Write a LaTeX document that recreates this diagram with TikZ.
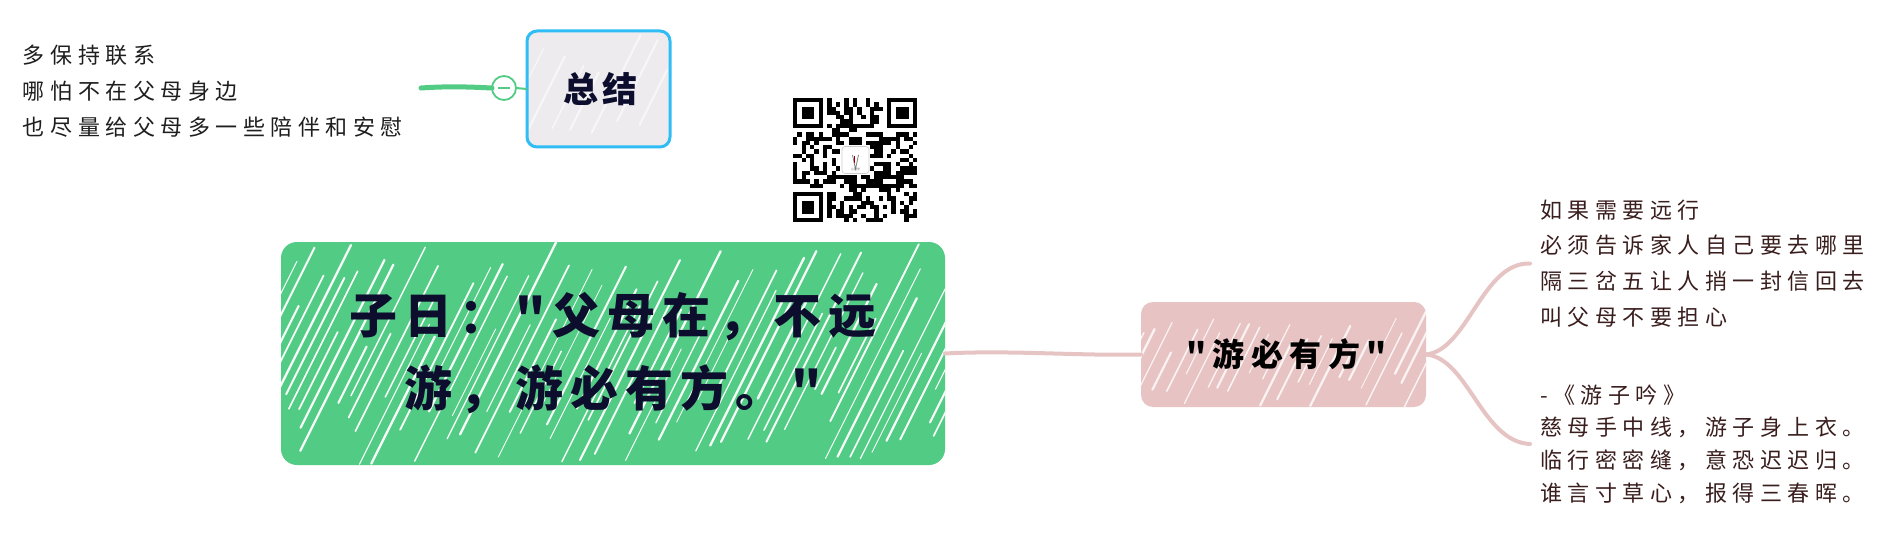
\documentclass[tikz,border=0pt]{standalone}
\usepackage{fontspec}
\setmainfont{Noto Sans CJK SC}
\newfontfamily\cjkw{Noto Sans CJK SC}[LetterSpace=25]
\newfontfamily\cjkm{Noto Sans CJK SC}[LetterSpace=15]
\newfontfamily\cjkp{Noto Sans CJK SC}[LetterSpace=20]
\newfontfamily\cjks{Noto Sans CJK SC}[LetterSpace=10]
\definecolor{mgreen}{HTML}{52CB84}
\definecolor{mpink}{HTML}{E8C3C3}
\definecolor{lpink}{HTML}{E6C4C4}
\definecolor{sgray}{HTML}{EDEBEE}
\definecolor{sblue}{HTML}{30BDF5}
\definecolor{navy}{HTML}{0D0D2E}
\definecolor{dbrown}{HTML}{3A1E1E}
\definecolor{dtext}{HTML}{1E1E1E}
% #1 x1, #2 y1 (top), #3 x2, #4 y2 (bottom), #5 seed, #6 opacity, #7 corner radius, #8 spacing
\newcommand\hatchbox[8]{%
  \begin{scope}
    \clip[rounded corners=#7] (#1,#2) rectangle (#3,#4);
    \pgfmathsetseed{#5}
    \pgfmathsetmacro\hh{#4-#2}
    \pgfmathsetmacro\hs{#1-0.5*\hh}
    \pgfmathsetmacro\hn{\hs+#8}
    \foreach \xx in {\hs,\hn,...,#3} {
      \pgfmathsetmacro\ta{rnd*0.35}
      \pgfmathsetmacro\tb{0.5+rnd*0.5}
      \pgfmathsetmacro\lw{0.8+rnd*1.6}
      \pgfmathsetmacro\dx{rnd*6}
      \draw[white, opacity=#6, line width=\lw pt, line cap=round]
        (\xx+\dx+0.5*\hh*\ta, #4-\hh*\ta) -- (\xx+\dx+0.5*\hh*\tb, #4-\hh*\tb);
    }
  \end{scope}}
\tikzset{
  leftblock/.style={font=\cjkw\fontsize{22}{36}\selectfont, text=dtext, align=left, anchor=west},
  rightblock/.style={font=\cjkw\fontsize{22}{32.7}\selectfont, text=dbrown, align=left, anchor=west},
  sumbox/.style={draw=sblue, line width=3pt, fill=sgray, rounded corners=10pt,
    minimum width=143pt, minimum height=116pt},
  sumtext/.style={text=navy, font=\cjks\bfseries\fontsize{35}{40}\selectfont},
  mainbox/.style={fill=mgreen, rounded corners=16pt, minimum width=664pt, minimum height=223pt},
  maintext/.style={text=navy, align=center, font=\cjkm\bfseries\fontsize{48}{73}\selectfont},
  pinkbox/.style={fill=mpink, rounded corners=12pt, minimum width=285pt, minimum height=105pt},
  pinktext/.style={text=black, font=\cjkp\bfseries\fontsize{32}{40}\selectfont},
  gconn/.style={mgreen, line width=5pt, line cap=round},
  pconn/.style={lpink, line width=4pt, line cap=round},
}
\begin{document}
\begin{tikzpicture}[x=1pt, y=-1pt, every node/.style={inner sep=0pt, outer sep=0pt}]
\useasboundingbox (0,0) rectangle (1894,540);
\fill[white] (0,0) rectangle (1894,540);

% summary branch
\node[leftblock] (sumtxt) at (23,91) {多保持联系\\哪怕不在父母身边\\也尽量给父母多一些陪伴和安慰};
\node[sumbox] (sum) at (598.5,89) {};
\hatchbox{529}{33}{668}{145}{5}{0.6}{9}{22}
\node[sumtext] (sumlabel) at ([xshift=2pt]sum.center) {总结};
\node[circle, draw=mgreen, line width=1.8pt, fill=white, minimum size=24pt] (col) at (504,88) {};
\coordinate (gl) at (421,88);
\draw[gconn] (gl) .. controls (450,86) and (470,87) .. (col.west);
\draw[mgreen, line width=2pt] (col.east) -- (sum.west);
\draw[mgreen, line width=1.8pt] ([xshift=-6pt]col.center) -- ([xshift=6pt]col.center);

% QR code
\begin{scope}[shift={(793,98)}]
  \pgfmathsetseed{11}
  \foreach \i in {0,...,28} {
    \foreach \j in {0,...,28} {
      \pgfmathtruncatemacro\qr{((\i<8)&&(\j<8)) || ((\i>20)&&(\j<8)) || ((\i<8)&&(\j>20)) || ((abs(\i-14)<4)&&(abs(\j-14)<4)) ? 0 : (rnd>0.48 ? 1 : 0)}
      \ifnum\qr=1 \fill[black] (\i*4.28,\j*4.28) rectangle ++(4.30,4.30); \fi
    }
  }
  \foreach \fx/\fy in {0/0, 22/0, 0/22} {
    \draw[black, line width=4.28pt] (\fx*4.28+2.14,\fy*4.28+2.14) rectangle ++(25.68,25.68);
    \fill[black] (\fx*4.28+8.56,\fy*4.28+8.56) rectangle ++(12.84,12.84);
  }
\end{scope}
\node[draw=black!20, fill=white, rounded corners=3pt, minimum size=27pt, line width=0.6pt] (logo) at (855.5,160) {};
\draw[black!50, line width=0.8pt] ([shift={(-3,-5)}]logo.center) -- ([shift={(0,9)}]logo.center) -- ([shift={(3,-5)}]logo.center);
\draw[red!60!black, line width=0.6pt] ([shift={(-1,-4)}]logo.center) -- ([shift={(-1,3)}]logo.center);
\node[font=\fontsize{3}{3}\selectfont, text=black!60] (logotxt) at ([yshift=-9pt]logo.center) {心理学};

% main topic
\node[mainbox] (main) at (613,353.5) {};
\hatchbox{281}{242}{945}{465}{3}{0.95}{16}{11}
\node[maintext] (maintxt) at (main.center) {子日："父母在，不远\\游，游必有方。"};

% pink branch
\node[pinkbox] (pk) at (1283.5,354.5) {};
\hatchbox{1141}{302}{1426}{407}{9}{0.8}{12}{13}
\node[pinktext] (pktxt) at ([xshift=3pt]pk.center) {"游必有方"};
\draw[pconn] (main.east) .. controls (1010,350) and (1080,356) .. (pk.west);

\node[rightblock, font=\cjkw\fontsize{22}{35.7}\selectfont] (toptxt) at (1540,263.5) {如果需要远行\\必须告诉家人自己要去哪里\\隔三岔五让人捎一封信回去\\叫父母不要担心};
\node[rightblock] (bottxt) at (1540,444) {-《游子吟》\\慈母手中线，游子身上衣。\\临行密密缝，意恐迟迟归。\\谁言寸草心，报得三春晖。};

\draw[pconn] (pk.east) .. controls (1468,350) and (1482,262) .. ([xshift=-10pt]toptxt.west);
\draw[pconn] (pk.east) .. controls (1468,358) and (1482,442) .. ([xshift=-10pt]bottxt.west);
\end{tikzpicture}
\end{document}
